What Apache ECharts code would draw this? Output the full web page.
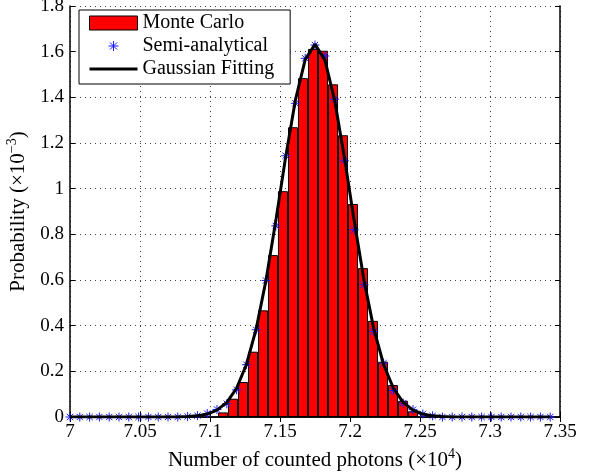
<!DOCTYPE html>
<html>
<head>
<meta charset="utf-8">
<script src="https://cdn.jsdelivr.net/npm/echarts@6/dist/echarts.min.js"></script>
<style>
html,body{margin:0;padding:0;background:#fff;}
#chart{width:600px;height:473px;}
</style>
</head>
<body>
<div id="chart"></div>
<script>
// x-axis tick labels (×10^4)
var xTicks = [7, 7.05, 7.1, 7.15, 7.2, 7.25, 7.3, 7.35];
// y-axis tick labels (×10^-3)
var yTicks = [0, 0.2, 0.4, 0.6, 0.8, 1, 1.2, 1.4, 1.6, 1.8];

// Monte Carlo histogram: bin centres and heights
var mcCenters = [7.1093, 7.1164, 7.1236, 7.1307, 7.1379, 7.1450, 7.1521, 7.1593, 7.1664, 7.1736,
                 7.1807, 7.1879, 7.1950, 7.2021, 7.2093, 7.2164, 7.2236, 7.2307, 7.2379, 7.2450];
var mcValues  = [0.020, 0.080, 0.153, 0.286, 0.467, 0.709, 0.989, 1.269, 1.484, 1.612,
                 1.604, 1.457, 1.234, 0.933, 0.652, 0.421, 0.242, 0.140, 0.071, 0.025];

// Semi-analytical points
var saX = [7.000, 7.007, 7.014, 7.021, 7.028, 7.035, 7.042, 7.049, 7.056, 7.063,
           7.070, 7.077, 7.084, 7.091, 7.098, 7.105, 7.112, 7.119, 7.126, 7.133,
           7.140, 7.147, 7.154, 7.161, 7.168, 7.175, 7.182, 7.189, 7.196, 7.203,
           7.210, 7.217, 7.224, 7.231, 7.238, 7.245, 7.252, 7.259, 7.266, 7.273,
           7.280, 7.287, 7.294, 7.301, 7.308, 7.315, 7.322, 7.329, 7.336, 7.343];
var saValues = [0, 0, 0, 0, 0, 0, 0, 0, 0, 0,
                0, 0, 0.002, 0.006, 0.015, 0.033, 0.058, 0.119, 0.229, 0.382,
                0.598, 0.837, 1.144, 1.374, 1.571, 1.629, 1.581, 1.392, 1.122, 0.820,
                0.579, 0.375, 0.236, 0.116, 0.061, 0.032, 0.013, 0.005, 0, 0,
                0, 0, 0, 0, 0, 0, 0, 0, 0, 0];

// Gaussian fitting curve (same abscissae)
var gaussValues = [0, 0, 0, 0, 0, 0, 0, 0, 0, 0,
                   0, 0, 0.002, 0.005, 0.013, 0.030, 0.064, 0.126, 0.230, 0.386,
                   0.599, 0.859, 1.137, 1.388, 1.565, 1.632, 1.565, 1.388, 1.137, 0.859,
                   0.599, 0.386, 0.230, 0.126, 0.064, 0.030, 0.013, 0.005, 0.002, 0,
                   0, 0, 0, 0, 0, 0, 0, 0, 0, 0];

var seriesNames = ['Monte Carlo', 'Semi-analytical', 'Gaussian Fitting'];

var FONT = 'Liberation Serif';
var asterisk = 'path://M-5,0L5,0M0,-5L0,5M-3.5,-3.5L3.5,3.5M-3.5,3.5L3.5,-3.5';
var asteriskLegend = 'path://M0,0M19,7L29,7M24,2L24,12M20.5,3.5L27.5,10.5M20.5,10.5L27.5,3.5M48,14';
var lineLegend = 'path://M0,0M0,5.5L48,5.5L48,8.5L0,8.5ZM48,14';

var mcData = mcCenters.map(function (x, i) { return [x, mcValues[i]]; });
var saData = saX.map(function (x, i) { return [x, saValues[i]]; });
var gaussData = saX.map(function (x, i) { return [x, gaussValues[i]]; });

var xMin = xTicks[0], xMax = xTicks[xTicks.length - 1], xInt = 0.05;
var yMin = yTicks[0], yMax = yTicks[yTicks.length - 1], yInt = 0.2;

var nameRich = {
  t: {fontFamily: FONT, fontSize: 21, color: '#000', lineHeight: 24, verticalAlign: 'bottom'},
  s: {fontFamily: FONT, fontSize: 14, color: '#000', lineHeight: 14, verticalAlign: 'top'}
};

var chart = echarts.init(document.getElementById('chart'), null, {renderer: 'canvas'});
var axisLineStyle = {color: '#000', width: 1.5};
var option = {
  animation: false,
  backgroundColor: '#fff',
  grid: {left: 70, right: 40, top: 6, bottom: 56, containLabel: false, outerBoundsMode: 'none'},
  legend: {
    orient: 'vertical',
    left: 79, top: 10,
    padding: [3, 16, 5, 10],
    itemGap: 3,
    itemWidth: 48, itemHeight: 14,
    backgroundColor: '#fff',
    borderColor: '#000', borderWidth: 1,
    textStyle: {fontFamily: FONT, fontSize: 20, color: '#000'},
    data: [
      {name: seriesNames[0], icon: 'rect', itemStyle: {color: '#ff0000', borderColor: '#000', borderWidth: 1}},
      {name: seriesNames[1], icon: asteriskLegend, itemStyle: {color: 'rgba(0,0,0,0)', borderColor: '#1a1aff', borderWidth: 1}},
      {name: seriesNames[2], icon: lineLegend, itemStyle: {color: '#000', borderWidth: 0}}
    ]
  },
  xAxis: [{
    type: 'value', min: xMin, max: xMax, interval: xInt,
    name: '{t|Number of counted photons (×10}{s|4}{t|)}',
    nameLocation: 'middle', nameGap: 26,
    nameTextStyle: {rich: nameRich},
    axisLine: {lineStyle: axisLineStyle},
    axisTick: {inside: true, length: 5, lineStyle: {color: '#000'}},
    axisLabel: {fontFamily: FONT, fontSize: 19, color: '#000', margin: 6},
    splitLine: {show: true, lineStyle: {color: '#444', type: [1, 4], width: 1}}
  }, {
    type: 'value', min: xMin, max: xMax, interval: xInt, position: 'top',
    axisLine: {lineStyle: axisLineStyle},
    axisTick: {inside: true, length: 5, lineStyle: {color: '#000'}},
    axisLabel: {show: false},
    splitLine: {show: false}
  }],
  yAxis: [{
    type: 'value', min: yMin, max: yMax, interval: yInt,
    name: '{t|Probability (×10}{s|−3}{t|)}',
    nameLocation: 'middle', nameGap: 31,
    nameTextStyle: {rich: nameRich},
    axisLine: {show: true, lineStyle: axisLineStyle},
    axisTick: {show: true, inside: true, length: 5, lineStyle: {color: '#000'}},
    axisLabel: {fontFamily: FONT, fontSize: 19, color: '#000', margin: 6},
    splitLine: {show: true, lineStyle: {color: '#444', type: [1, 4], width: 1}}
  }, {
    type: 'value', min: yMin, max: yMax, interval: yInt, position: 'right',
    axisLine: {show: true, lineStyle: axisLineStyle},
    axisTick: {show: true, inside: true, length: 5, lineStyle: {color: '#000'}},
    axisLabel: {show: false},
    splitLine: {show: false}
  }],
  series: [{
    name: seriesNames[0], type: 'bar', data: mcData,
    barWidth: 10,
    itemStyle: {color: '#ff0000', borderColor: '#000', borderWidth: 1},
    z: 2
  }, {
    name: seriesNames[1], type: 'scatter', data: saData,
    symbol: asterisk, symbolSize: 9,
    itemStyle: {color: 'rgba(0,0,0,0)', borderColor: '#1a1aff', borderWidth: 1, opacity: 1},
    z: 3
  }, {
    name: seriesNames[2], type: 'line', data: gaussData,
    showSymbol: false, symbol: 'none',
    lineStyle: {color: '#000', width: 3},
    itemStyle: {color: '#000'},
    z: 4
  }]
};
chart.setOption(option);
</script>
</body>
</html>
